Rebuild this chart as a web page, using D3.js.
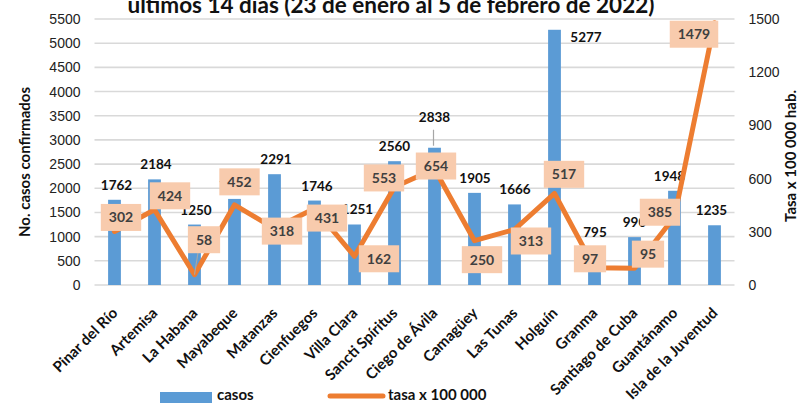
<!DOCTYPE html>
<html>
<head>
<meta charset="utf-8">
<script src="https://cdn.jsdelivr.net/npm/d3@7"></script>
<style>
  html, body { margin: 0; padding: 0; background: #fff; }
  svg { display: block; font-family: Lato, "Open Sans", sans-serif; }
  .tick-lbl { font-size: 14px; fill: #222; }
  .bar-lbl { font-size: 13.5px; font-weight: bold; fill: #111; }
  .rate-lbl { font-size: 14px; font-weight: bold; fill: #404040; }
  .cat-lbl { font-size: 15px; font-weight: bold; fill: #111; }
  .ax-title { font-size: 15px; font-weight: bold; fill: #111; }
</style>
</head>
<body>
<div id="chart"></div>
<script>
// casos por provincia, últimos 14 días
const provincias = ["Pinar del Río", "Artemisa", "La Habana", "Mayabeque", "Matanzas", "Cienfuegos",
  "Villa Clara", "Sancti Spíritus", "Ciego de Ávila", "Camagüey", "Las Tunas", "Holguín",
  "Granma", "Santiago de Cuba", "Guantánamo", "Isla de la Juventud"];
const casos = [1762, 2184, 1250, 1780, 2291, 1746, 1251, 2560, 2838, 1905, 1666, 5277, 795, 990, 1948, 1235];
const tasa = [302, 424, 58, 452, 318, 431, 162, 553, 654, 250, 313, 517, 97, 95, 385, 1479];
const ticksCasos = [0, 500, 1000, 1500, 2000, 2500, 3000, 3500, 4000, 4500, 5000, 5500];
const ticksTasa = [0, 300, 600, 900, 1200, 1500];

// label nudges (px) copied from the hand-placed labels in the original
const casosNudge = [[2, 0], [1.5, 0], [1.5, 0], [0, 0], [1.5, 0], [2.5, 0], [3, 0], [0, 0],
  [0, -16], [0.5, 0], [0.5, 0], [31.5, 22], [0.5, 0], [0, 0], [-5, 0], [-3, 0]];
const tasaNudge = [[6.5, -14], [15.5, -14], [9.5, -35], [5, -23], [7.5, 2.5], [12.5, 9.5], [24.5, 2.5], [-10.5, -9],
  [1.5, -3], [7.5, 19], [16.5, 11.5], [9.5, -19], [-4.5, -9], [13.5, -14], [-14.5, -4.5], [-20.5, 11.5]];
const casosLeader = ["Ciego de Ávila"];
const tasaLeader = ["La Habana"];

const W = 798, H = 403;
const m = { t: 19, r: 63.5, b: 118, l: 94.5 };
const BLUE = "#5B9BD5", ORANGE = "#ED7D31", PEACH = "#F8CBAD", GRID = "#D9D9D9";

const svg = d3.select("#chart").append("svg").attr("width", W).attr("height", H);

const x = d3.scaleBand().domain(provincias).range([m.l, W - m.r]).paddingInner(0.68).paddingOuter(0.34);
const cx = d => x(d) + x.bandwidth() / 2;
const yL = d3.scaleLinear().domain([0, 5500]).range([H - m.b, m.t]);
const yR = d3.scaleLinear().domain([0, 1500]).range([H - m.b, m.t]);

// title (first line falls outside the frame)
svg.append("text").attr("x", 391).attr("y", 12.5).attr("text-anchor", "middle")
  .style("font-size", "22.5px").style("font-weight", "bold").attr("fill", "#111")
  .text("últimos 14 días (23 de enero al 5 de febrero de 2022)");

// grid
svg.append("g").selectAll("line").data(ticksCasos).join("line")
  .attr("x1", m.l).attr("x2", W - m.r)
  .attr("y1", d => yL(d)).attr("y2", d => yL(d))
  .attr("stroke", GRID).attr("stroke-width", 1.6);

// axes
const axL = svg.append("g").attr("transform", `translate(${m.l - 14},0)`)
  .call(d3.axisLeft(yL).tickValues(ticksCasos).tickFormat(d3.format("d")).tickSize(0).tickPadding(0));
const axR = svg.append("g").attr("transform", `translate(${W - m.r + 14},0)`)
  .call(d3.axisRight(yR).tickValues(ticksTasa).tickFormat(d3.format("d")).tickSize(0).tickPadding(0));
[axL, axR].forEach(a => {
  a.select(".domain").remove();
  a.selectAll("text").attr("class", "tick-lbl").attr("font-family", null).attr("font-size", null).attr("fill", null);
});

svg.append("text").attr("class", "ax-title").attr("text-anchor", "middle")
  .attr("transform", `translate(30,162) rotate(-90)`).text("No. casos confirmados");
svg.append("text").attr("class", "ax-title").attr("text-anchor", "middle")
  .attr("transform", `translate(795.5,156) rotate(-90)`).text("Tasa x 100 000 hab.");

// bars
svg.append("g").selectAll("rect").data(provincias).join("rect")
  .attr("x", d => x(d))
  .attr("y", (d, i) => yL(casos[i]))
  .attr("width", x.bandwidth())
  .attr("height", (d, i) => yL(0) - yL(casos[i]))
  .attr("fill", BLUE);

// bar labels
const barLbl = svg.append("g");
provincias.forEach((p, i) => {
  const lx = cx(p) + casosNudge[i][0], ly = yL(casos[i]) - 10 + casosNudge[i][1];
  if (casosLeader.includes(p)) {
    barLbl.append("line").attr("x1", cx(p) - 1).attr("x2", cx(p) - 1)
      .attr("y1", ly + 8).attr("y2", yL(casos[i]) - 2)
      .attr("stroke", "#A6A6A6").attr("stroke-width", 1.2);
  }
  barLbl.append("text").attr("class", "bar-lbl").attr("x", lx).attr("y", ly)
    .attr("text-anchor", "middle").text(casos[i]);
});

// rate line
const line = d3.line().x((d, i) => cx(provincias[i])).y(d => yR(d));
svg.append("path").datum(tasa)
  .attr("fill", "none").attr("stroke", ORANGE).attr("stroke-width", 5)
  .attr("stroke-linejoin", "round").attr("stroke-linecap", "round")
  .attr("d", line);

// rate labels in boxes
const rl = svg.append("g");
provincias.forEach((p, i) => {
  const px = cx(p), py = yR(tasa[i]);
  const bx = px + tasaNudge[i][0], by = py + tasaNudge[i][1];
  if (tasaLeader.includes(p)) {
    rl.append("line").attr("x1", px).attr("y1", py).attr("x2", bx - 6).attr("y2", by + 13)
      .attr("stroke", "#A6A6A6").attr("stroke-width", 1.2);
  }
  const g = rl.append("g");
  const r = g.append("rect").attr("fill", PEACH);
  const t = g.append("text").attr("class", "rate-lbl").attr("x", bx).attr("y", by + 5)
    .attr("text-anchor", "middle").text(tasa[i]);
  const w = t.node().getComputedTextLength() + 16;
  r.attr("x", bx - w / 2).attr("y", by - 13.5).attr("width", w).attr("height", 27);
});

// category labels
svg.append("g").selectAll("text").data(provincias).join("text")
  .attr("class", "cat-lbl").attr("text-anchor", "end")
  .attr("transform", d => `translate(${cx(d) + 4},${yL(0) + 29}) rotate(-45)`)
  .text(d => d);

// legend
const lg = svg.append("g");
lg.append("rect").attr("x", 160).attr("y", 392).attr("width", 52).attr("height", 14).attr("fill", BLUE);
lg.append("text").attr("x", 217).attr("y", 400).style("font-size", "15px").style("font-weight", "bold")
  .attr("fill", "#111").text("casos");
lg.append("line").attr("x1", 330).attr("x2", 383).attr("y1", 396).attr("y2", 396)
  .attr("stroke", ORANGE).attr("stroke-width", 5).attr("stroke-linecap", "round");
lg.append("text").attr("x", 388).attr("y", 400).style("font-size", "15px").style("font-weight", "bold")
  .attr("fill", "#111").text("tasa x 100 000");
</script>
</body>
</html>
